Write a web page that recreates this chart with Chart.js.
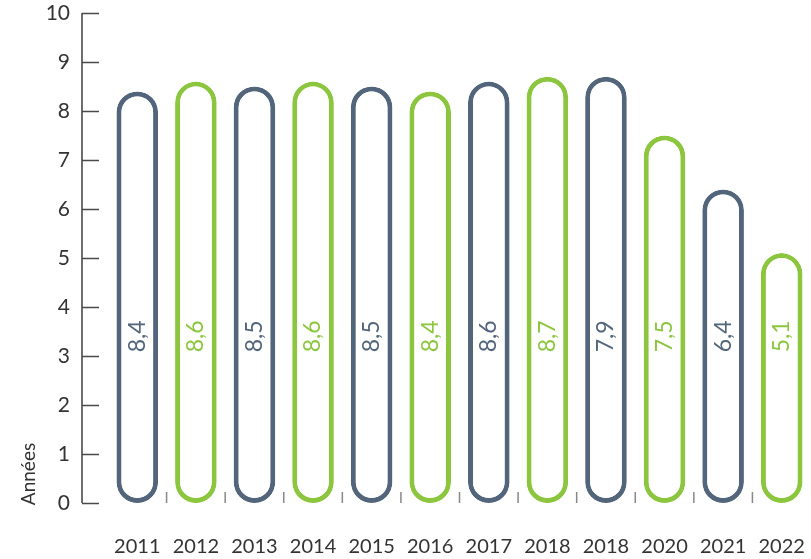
<!DOCTYPE html>
<html>
<head>
<meta charset="utf-8">
<script src="https://cdn.jsdelivr.net/npm/chart.js@4/dist/chart.umd.min.js"></script>
<style>
  html, body { margin: 0; padding: 0; background: #fff; }
  #wrap { width: 811px; height: 559px; }
</style>
</head>
<body>
<div id="wrap"><canvas id="chart" width="811" height="559"></canvas></div>
<script>
// categories as printed under the bars (2018 appears twice in the original)
var years = ['2011', '2012', '2013', '2014', '2015', '2016', '2017', '2018', '2018', '2020', '2021', '2022'];
// bar heights
var values = [8.4, 8.6, 8.5, 8.6, 8.5, 8.4, 8.6, 8.7, 8.7, 7.5, 6.4, 5.1];
// labels written inside the bars
var valueLabels = ['8,4', '8,6', '8,5', '8,6', '8,5', '8,4', '8,6', '8,7', '7,9', '7,5', '6,4', '5,1'];
var yMin = 0, yMax = 10, yStep = 1;
var yTitle = 'Années';

var slate = '#52657b';
var green = '#8cc63f';
var barColors = years.map(function (y, i) { return i % 2 ? green : slate; });
var fontFamily = 'Lato, "Open Sans", sans-serif';

var decorations = {
  id: 'decorations',
  afterDraw: function (chart) {
    var ctx = chart.ctx;
    var xs = chart.scales.x, ys = chart.scales.y;
    var axisX = 82;
    var y0 = ys.getPixelForValue(yMin);
    ctx.save();

    // y axis line + inward ticks
    ctx.strokeStyle = '#4a4a4a';
    ctx.lineWidth = 1.6;
    ctx.beginPath();
    ctx.moveTo(axisX, ys.getPixelForValue(yMax));
    ctx.lineTo(axisX, y0);
    for (var v = yMin; v <= yMax; v += yStep) {
      var py = Math.round(ys.getPixelForValue(v)) + 0.5;
      ctx.moveTo(axisX, py);
      ctx.lineTo(axisX + 17, py);
    }
    ctx.stroke();

    // small ticks between categories
    ctx.strokeStyle = '#888';
    ctx.lineWidth = 1.5;
    ctx.beginPath();
    for (var i = 0; i < years.length - 1; i++) {
      var px = (xs.getPixelForValue(i) + xs.getPixelForValue(i + 1)) / 2;
      ctx.moveTo(px, y0 - 11);
      ctx.lineTo(px, y0);
    }
    ctx.stroke();

    // value labels, rotated inside bars
    var meta = chart.getDatasetMeta(0);
    var ly = ys.getPixelForValue(3.4);
    ctx.font = '400 23px ' + fontFamily;
    ctx.textAlign = 'center';
    ctx.textBaseline = 'middle';
    meta.data.forEach(function (bar, j) {
      ctx.save();
      ctx.translate(bar.x, ly);
      ctx.rotate(-Math.PI / 2);
      ctx.fillStyle = barColors[j];
      ctx.fillText(valueLabels[j], 0, 0);
      ctx.restore();
    });

    // axis title
    ctx.save();
    ctx.translate(29, 474);
    ctx.rotate(-Math.PI / 2);
    ctx.fillStyle = '#333';
    ctx.font = '400 19px ' + fontFamily;
    ctx.fillText(yTitle, 0, 0);
    ctx.restore();

    ctx.restore();
  }
};

new Chart(document.getElementById('chart'), {
  type: 'bar',
  data: {
    labels: years,
    datasets: [{
      data: values,
      backgroundColor: '#ffffff',
      borderColor: barColors,
      borderWidth: 5,
      borderRadius: 21,
      borderSkipped: false,
      barPercentage: 0.71,
      categoryPercentage: 1
    }]
  },
  options: {
    responsive: false,
    animation: false,
    layout: { padding: { top: 13, right: 0, left: 0, bottom: 0 } },
    plugins: {
      legend: { display: false },
      tooltip: { enabled: false }
    },
    scales: {
      x: {
        grid: { display: false, drawTicks: false },
        border: { display: false },
        ticks: { color: '#333', font: { family: fontFamily, size: 20 }, padding: 32, maxRotation: 0, autoSkip: false },
        afterFit: function (scale) {
          scale.height = 56;
          scale.paddingLeft = 0;
          scale.paddingRight = 0;
        }
      },
      y: {
        min: yMin,
        max: yMax,
        grid: { display: false, drawTicks: false },
        border: { display: false },
        ticks: { stepSize: yStep, color: '#333', font: { family: fontFamily, size: 21 }, padding: 38 },
        afterFit: function (scale) {
          scale.width = 108;
          scale.paddingTop = 0;
          scale.paddingBottom = 0;
        }
      }
    }
  },
  plugins: [decorations]
});
</script>
</body>
</html>
